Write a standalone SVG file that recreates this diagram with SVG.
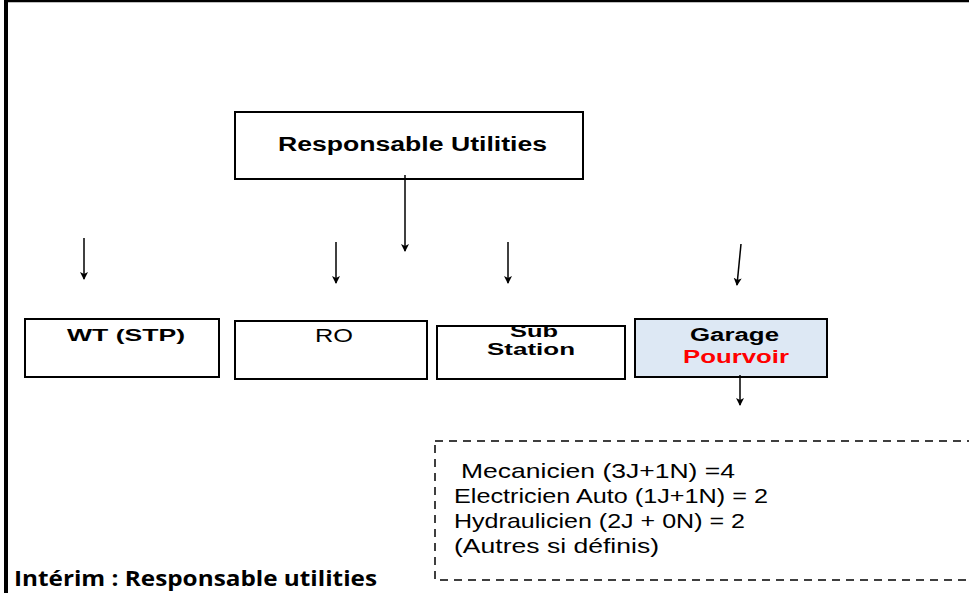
<svg xmlns="http://www.w3.org/2000/svg" width="969" height="593" viewBox="0 0 969 593">
<defs>
<marker id="ah" markerWidth="8" markerHeight="10" refX="7" refY="5" orient="auto" markerUnits="userSpaceOnUse">
<path d="M0,1 L8,5 L0,9 L2,5 Z" fill="#000"/>
</marker>
<style>
.box{fill:#fff;stroke:#000;stroke-width:2}
.b{font-family:"Liberation Sans",Arial,sans-serif;font-weight:bold;fill:#000}
.n{font-family:"Liberation Sans",Arial,sans-serif;fill:#000}
.c{stroke:#000;stroke-width:1.5;fill:none;marker-end:url(#ah)}
</style>
</defs>
<rect width="969" height="593" fill="#fff"/>
<g id="frame">
<line x1="6" y1="1" x2="969" y2="1" stroke="#000" stroke-width="2.5"/>
<line x1="6" y1="0" x2="6" y2="593" stroke="#000" stroke-width="4"/>
</g>
<g id="responsable">
<rect class="box" x="235" y="112" width="348" height="67"/>
<text class="b" x="278" y="151" font-size="20" textLength="269" lengthAdjust="spacingAndGlyphs">Responsable Utilities</text>
</g>
<g id="wt">
<rect class="box" x="25" y="319" width="194" height="58"/>
<text class="b" x="67" y="341" font-size="17" textLength="118" lengthAdjust="spacingAndGlyphs">WT (STP)</text>
</g>
<g id="ro">
<rect class="box" x="235" y="321" width="192" height="58"/>
<text class="n" x="315" y="342" font-size="18" textLength="38" lengthAdjust="spacingAndGlyphs">RO</text>
</g>
<g id="substation">
<rect class="box" x="437" y="326" width="188" height="53"/>
<text class="b" x="510" y="337" font-size="17" textLength="48" lengthAdjust="spacingAndGlyphs">Sub</text>
<text class="b" x="487" y="355" font-size="17" textLength="88" lengthAdjust="spacingAndGlyphs">Station</text>
</g>
<g id="garage">
<rect x="635" y="319" width="192" height="58" fill="#dde8f4" stroke="#000" stroke-width="2"/>
<text class="b" x="690" y="341" font-size="17.5" textLength="89" lengthAdjust="spacingAndGlyphs">Garage</text>
<text class="b" x="683" y="363" font-size="17.5" textLength="106" lengthAdjust="spacingAndGlyphs" style="fill:#ff0000">Pourvoir</text>
</g>
<g id="staff">
<rect x="435" y="441" width="560" height="139" fill="none" stroke="#000" stroke-width="1.5" stroke-dasharray="8,6"/>
<text class="n" font-size="21">
<tspan x="461" y="478" textLength="274" lengthAdjust="spacingAndGlyphs">Mecanicien (3J+1N) =4</tspan>
<tspan x="454" y="503" textLength="314" lengthAdjust="spacingAndGlyphs">Electricien Auto (1J+1N) = 2</tspan>
<tspan x="454" y="528" textLength="291" lengthAdjust="spacingAndGlyphs">Hydraulicien (2J + 0N) = 2</tspan>
<tspan x="454" y="553" textLength="205" lengthAdjust="spacingAndGlyphs">(Autres si définis)</tspan>
</text>
</g>
<g id="interim">
<text x="14" y="586" font-family="'Open Sans','Noto Sans',sans-serif" font-weight="bold" font-size="21" fill="#000" textLength="363" lengthAdjust="spacingAndGlyphs">Intérim : Responsable utilities</text>
</g>
<g id="connectors">
<line class="c" x1="405" y1="175" x2="405" y2="251"/>
<line class="c" x1="84" y1="238" x2="84" y2="279"/>
<line class="c" x1="336" y1="242" x2="336" y2="283"/>
<line class="c" x1="508" y1="242" x2="508" y2="283"/>
<line class="c" x1="741" y1="244" x2="737" y2="285"/>
<line class="c" x1="740" y1="375" x2="740" y2="405"/>
</g>
</svg>
